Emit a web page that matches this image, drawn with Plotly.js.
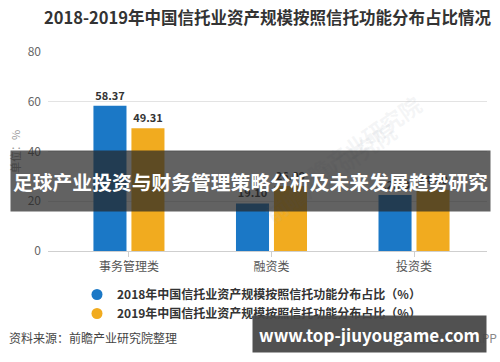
<!DOCTYPE html>
<html>
<head>
<meta charset="utf-8">
<script src="https://cdn.plot.ly/plotly-3.0.1.min.js"></script>
<style>html,body{margin:0;padding:0;background:#fff;}#chart{width:500px;height:362px;}</style>
</head>
<body>
<div id="chart"></div>
<script>
var categories = ['事务管理类', '融资类', '投资类'];
var values2018 = [58.37, 19.10, 22.53];
var values2019 = [49.31, 26.09, 24.60];
var seriesNames = ['2018年中国信托业资产规模按照信托功能分布占比（%）', '2019年中国信托业资产规模按照信托功能分布占比（%）'];
var yTicks = [0, 20, 40, 60, 80];
var titleText = '2018-2019年中国信托业资产规模按照信托功能分布占比情况';
var bannerText = '足球产业投资与财务管理策略分析及未来发展趋势研究';
var sourceText = '资料来源：前瞻产业研究院整理';
var siteText = 'www.top-jiuyougame.com';
var appText = '@前瞻经济学人APP';
var watermarkText = '前瞻产业研究院';

var FONT = '"Noto Sans CJK SC", "Noto Sans", sans-serif';
var BLUE = '#1b78c6';
var YELLOW = '#f1ab1f';
var colors = [BLUE, YELLOW];
var seriesValues = [values2018, values2019];

var L = 48, R = 13, T = 52, B = 111, W = 500, H = 362;
var pw = W - L - R, ph = H - T - B;
function px(x) { return (x - L) / pw; }
function py(y) { return (H - B - y) / ph; }

var traces = [];
for (var i = 0; i < seriesValues.length; i++) {
  traces.push({
    type: 'bar', x: categories, y: seriesValues[i], name: seriesNames[i],
    marker: {color: colors[i]}, showlegend: false,
    text: seriesValues[i].map(function (v) { return v.toFixed(2); }),
    textposition: 'outside', cliponaxis: false,
    textfont: {family: FONT, size: 11, color: '#333', weight: 'bold'},
    hoverinfo: 'none'
  });
}
for (var j = 0; j < seriesNames.length; j++) {
  traces.push({
    type: 'scatter', mode: 'markers', x: [null], y: [null], name: seriesNames[j],
    marker: {color: colors[j], size: 11, symbol: 'circle'}, showlegend: true
  });
}

var annotations = [];
var wm = [[430, 85], [330, 112]];
wm.forEach(function (p) {
  annotations.push({xref: 'paper', yref: 'paper', x: px(p[0]), y: py(p[1]), text: watermarkText,
    showarrow: false, textangle: -35, font: {family: FONT, size: 22, color: 'rgba(170,180,190,0.13)', weight: 'bold'}});
});
annotations.push({xref: 'paper', yref: 'paper', x: px(7), y: py(337), xanchor: 'left', yanchor: 'middle',
  text: sourceText, showarrow: false, font: {family: FONT, size: 12, color: '#444'}});
annotations.push({xref: 'paper', yref: 'paper', x: px(499), y: py(337), xanchor: 'right', yanchor: 'middle',
  text: appText, showarrow: false, font: {family: FONT, size: 12, color: '#888'}});
annotations.push({xref: 'paper', yref: 'paper', x: px(250.5), y: py(181), xanchor: 'center', yanchor: 'middle',
  text: bannerText, showarrow: false, width: 477, height: 58, bgcolor: 'rgba(38,38,38,0.72)',
  font: {family: FONT, size: 19.8, color: '#fff', weight: 'bold'}});
annotations.push({xref: 'paper', yref: 'paper', x: px(369.5), y: py(334), xanchor: 'center', yanchor: 'middle',
  text: siteText, showarrow: false, width: 231, height: 34, bgcolor: 'rgba(72,72,72,0.95)',
  font: {family: FONT, size: 17, color: '#fff', weight: 'bold'}});

var layout = {
  width: W, height: H,
  margin: {l: L, r: R, t: T, b: B, pad: 0},
  paper_bgcolor: '#fff', plot_bgcolor: '#fff',
  font: {family: FONT, color: '#555'},
  title: {text: titleText, x: 0.5, xanchor: 'center', xref: 'paper', y: 1 - 18 / H, yanchor: 'middle',
    font: {family: FONT, size: 16.5, color: '#333', weight: 'bold'}},
  barmode: 'group', bargap: 0.467, bargroupgap: 0.13,
  xaxis: {type: 'category', range: [-0.568, 2.512], showgrid: false, zeroline: false,
    showline: true, linecolor: '#cfcfcf', linewidth: 1,
    ticks: 'outside', ticklen: 5, tickcolor: '#cfcfcf',
    tickfont: {family: FONT, size: 12, color: '#555'}, fixedrange: true},
  yaxis: {range: [0, 80], tickvals: yTicks, ticktext: yTicks.map(String), showgrid: true, gridcolor: '#e3e3e3',
    zeroline: false, showline: false, ticks: '', ticklabelstandoff: 6,
    tickfont: {family: FONT, size: 12, color: '#666'},
    title: {text: '单位：%', standoff: 4, font: {family: FONT, size: 11, color: '#999'}}},
  showlegend: true,
  legend: {x: px(77), y: py(280), xanchor: 'left', yanchor: 'top', orientation: 'v',
    font: {family: FONT, size: 12, color: '#333', weight: 'bold'}, bgcolor: 'rgba(0,0,0,0)', tracegroupgap: 0,
    itemwidth: 30},
  annotations: annotations
};

Plotly.newPlot('chart', traces, layout, {displayModeBar: false, staticPlot: true});
</script>
</body>
</html>
